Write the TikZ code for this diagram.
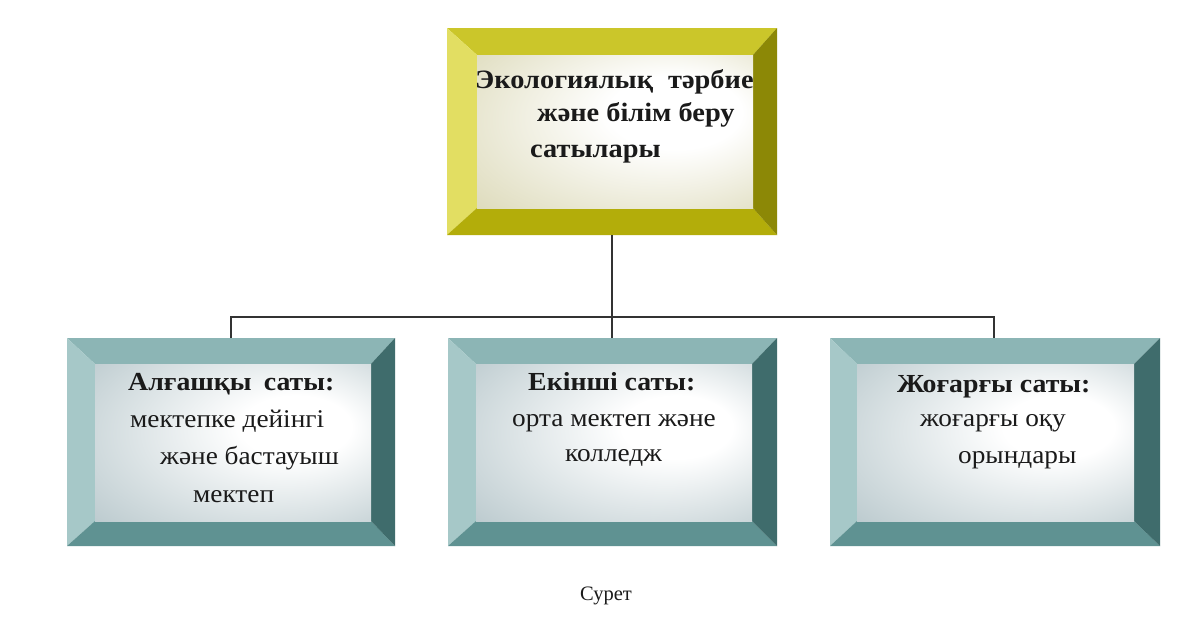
\documentclass[tikz,border=0pt]{standalone}
\usepackage{fontspec}
\setmainfont{Liberation Serif}
\newfontfamily\widefont[FakeStretch=1.07]{Liberation Serif}
\definecolor{ytop}{HTML}{CBC62A}
\definecolor{yleft}{HTML}{E2DE62}
\definecolor{ybot}{HTML}{B3AD0A}
\definecolor{yright}{HTML}{8C8806}
\definecolor{yface}{HTML}{CCC898}
\definecolor{ttop}{HTML}{8CB5B5}
\definecolor{tleft}{HTML}{A6C8C8}
\definecolor{tbot}{HTML}{5F9292}
\definecolor{tright}{HTML}{3F6C6C}
\definecolor{tface}{HTML}{9AB0B6}
\definecolor{ink}{HTML}{1A1A1A}
\definecolor{wire}{HTML}{333333}
\pgfdeclareradialshading{yshade}{\pgfpoint{14bp}{8bp}}{color(0bp)=(white); color(12bp)=(white); color(55bp)=(yface)}
\pgfdeclareradialshading{tshade}{\pgfpoint{14bp}{6bp}}{color(0bp)=(white); color(10bp)=(white); color(55bp)=(tface)}
% #1 x0, #2 y0, #3 x1, #4 y1, #5 left, #6 right, #7 top, #8 bottom, #9 palette letter
\newcommand\bevelbox[9]{%
  \fill[#9top] (#1,#2) -- (#3,#2) -- ({#3-#6},{#2+#7}) -- ({#1+#5},{#2+#7}) -- cycle;
  \fill[#9left] (#1,#2) -- ({#1+#5},{#2+#7}) -- ({#1+#5},{#4-#8}) -- (#1,#4) -- cycle;
  \fill[#9bot] (#1,#4) -- ({#1+#5},{#4-#8}) -- ({#3-#6},{#4-#8}) -- (#3,#4) -- cycle;
  \fill[#9right] (#3,#2) -- (#3,#4) -- ({#3-#6},{#4-#8}) -- ({#3-#6},{#2+#7}) -- cycle;
  \shade[shading=#9shade] ({#1+#5},{#2+#7}) rectangle ({#3-#6},{#4-#8});
}
\begin{document}
\begin{tikzpicture}[x=1pt,y=-1pt,
  frame/.style={inner sep=0pt, outer sep=0pt},
  head/.style={anchor=base west, inner sep=0pt, text=ink, font=\widefont\bfseries\fontsize{26}{30}\selectfont},
  body/.style={anchor=base west, inner sep=0pt, text=ink, font=\widefont\fontsize{25.5}{30}\selectfont},
  title/.style={anchor=base west, inner sep=0pt, text=ink, font=\widefont\bfseries\fontsize{26.5}{30}\selectfont},
  wirestyle/.style={draw=wire, line width=1.4pt}]
\useasboundingbox[fill=white] (0,0) rectangle (1200,630);

% boxes
\bevelbox{447}{28}{777}{235}{30}{24}{27}{27}{y}
\bevelbox{67}{338}{395}{546}{28}{24}{26}{25}{t}
\bevelbox{448}{338}{777}{546}{28}{25}{26}{25}{t}
\bevelbox{830}{338}{1160}{546}{27}{26}{26}{25}{t}

\node[frame, minimum width=330pt, minimum height=207pt] (top) at (612,131.5) {};
\node[frame, minimum width=328pt, minimum height=208pt] (left) at (231,442) {};
\node[frame, minimum width=329pt, minimum height=208pt] (mid) at (612,442) {};
\node[frame, minimum width=330pt, minimum height=208pt] (right) at (994,442) {};

% connectors
\coordinate (bus) at (612,317);
\draw[wirestyle] (top.south) -- (bus);
\draw[wirestyle] (bus) -- (mid.north);
\draw[wirestyle] (left.north) -- (left.north |- bus) -- (right.north |- bus) -- (right.north);

% texts top
\node[title] (t1) at (475,88) {Экологиялық\hspace{0.3em} тәрбие};
\node[title] (t2) at (537,121) {және білім беру};
\node[title] (t3) at (530,157) {сатылары};

% left box
\node[head] (l1) at (128,390) {Алғашқы\hspace{0.2em} саты:};
\node[body] (l2) at (130,427) {мектепке дейінгі};
\node[body] (l3) at (160,464) {және бастауыш};
\node[body] (l4) at (193,502) {мектеп};

% middle box
\node[head] (m1) at (528,390) {Екінші саты:};
\node[body] (m2) at (512,426) {орта мектеп және};
\node[body] (m3) at (565,461) {колледж};

% right box
\node[head] (r1) at (897,392) {Жоғарғы саты:};
\node[body] (r2) at (920,426) {жоғарғы оқу};
\node[body] (r3) at (958,463) {орындары};

% caption
\node[anchor=base west, inner sep=0pt, text=ink, font=\fontsize{20.5}{25}\selectfont] (cap) at (580,600) {Сурет};
\end{tikzpicture}
\end{document}
